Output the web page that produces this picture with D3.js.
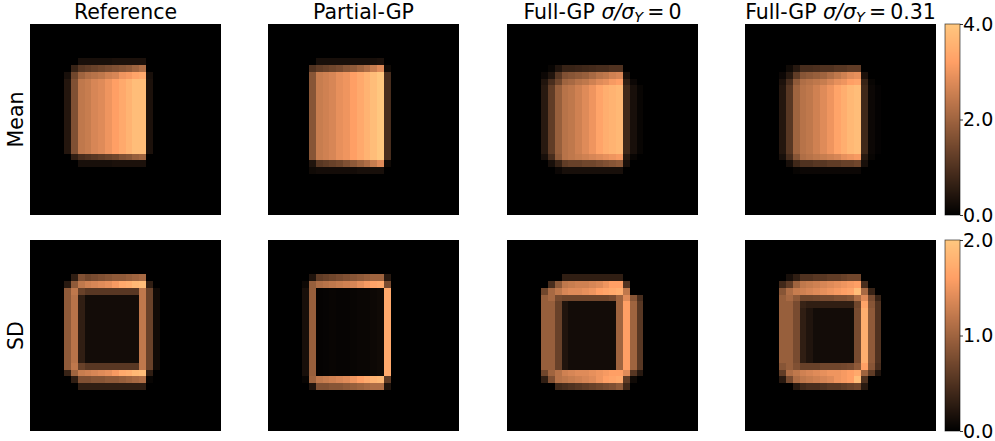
<!DOCTYPE html>
<html><head><meta charset="utf-8">
<script src="https://cdn.jsdelivr.net/npm/d3@7"></script>
<style>html,body{margin:0;padding:0;background:#fff}svg{display:block}text{font-family:"DejaVu Sans";fill:#000}</style>
</head><body><div id="c"></div>
<script>
// rows hold values by column; columns past the end of a row are 0
const e=[];
// Mean, Reference
const ma=[0,0,0,0,0,0,0,.3,.3,.3,.3,.3,.35,.35,.35,.35,.35];
const mb=[0,0,0,0,0,0,.7,1.1,1.2,1.3,1.4,1.5,1.6,1.7,1.8,2,2.2];
const mc=[0,0,0,0,0,.3,1.4,2,2.2,2.3,2.4,2.6,2.7,3,3.1,3.3,3.4,.3];
const md=[0,0,0,0,0,.45,1.6,2.4,2.5,2.7,2.8,3,3.2,3.4,3.6,3.8,3.8,.35];
const mf=[0,0,0,0,0,0,.6,.9,1,1.1,1.2,1.3,1.4,1.6,1.7,1.9,2];
const meanReference=[e,e,e,e,e,ma,mb,mc,md,md,md,md,md,md,md,md,md,md,md,mf,ma];
// Mean, Partial-GP
const pa=[0,0,0,0,0,0,0,.3,.3,.3,.3,.3,.3,.3,.3,.3,.35];
const pb=[0,0,0,0,0,0,1,1.2,1.3,1.4,1.5,1.7,1.8,2,2.2,2.5,2.8,.2];
const pc=[0,0,0,0,0,0,1.7,2.5,2.6,2.7,2.9,3,3.2,3.4,3.6,3.8,4,.9];
const pd=[0,0,0,0,0,0,.4,1.1,1.2,1.3,1.4,1.6,1.8,2,2.2,2.5,2.8,.2];
const pf=[0,0,0,0,0,0,.2,.25,.25,.25,.25,.25,.25,.3,.3,.3,.3];
const meanPartial=[e,e,e,e,e,pa,pb,pc,pc,pc,pc,pc,pc,pc,pc,pc,pc,pc,pc,pc,pd,pf];
// Mean, Full-GP sigma 0
const fa=[0,0,0,0,0,0,.1,.4,.7,.7,.75,.8,.85,.9,.9,1,1];
const fb=[0,0,0,0,0,.15,.4,1.1,1.6,1.7,1.8,1.9,2.1,2.3,2.4,2.6,2.7,.3];
const fc=[0,0,0,0,0,.4,.9,1.4,2,2.1,2.3,2.4,2.6,2.8,2.9,3.1,3.2,.6,.15];
const fd=[0,0,0,0,0,.5,1.2,1.9,2.3,2.4,2.6,2.8,3,3.3,3.5,3.6,3.7,.8,.3,.1];
const ff=[0,0,0,0,0,.3,.9,1.8,2.3,2.4,2.5,2.6,2.7,2.8,2.9,3,3.1,.5,.1];
const fg=[0,0,0,0,0,0,.3,.7,1.2,1.3,1.3,1.4,1.4,1.5,1.6,1.7,1.8,.3];
const fh=[0,0,0,0,0,0,0,.15,.3,.3,.3,.3,.3,.3,.3,.3,.3];
const meanFull0=[e,e,e,e,e,e,fa,fb,fc,fd,fd,fd,fd,fd,fd,fd,fd,fd,fd,ff,fg,fh];
// Mean, Full-GP sigma 0.31
const ga=[0,0,0,0,0,0,.2,.5,.9,.9,.95,1,1,1.1,1.1,1.2,1.2];
const gb=[0,0,0,0,0,.15,.5,1.2,1.7,1.8,1.9,2,2.2,2.4,2.6,2.8,2.9,.35];
const gc=[0,0,0,0,0,.35,.9,1.8,2.2,2.3,2.4,2.5,2.7,2.9,3,3.2,3.3,.7,.1];
const gd=[0,0,0,0,0,.45,1.1,2,2.3,2.4,2.6,2.8,3,3.3,3.5,3.7,3.8,.8,.15,.05];
const gf=[0,0,0,0,0,.3,.9,1.7,2.2,2.3,2.4,2.5,2.6,2.7,2.9,3,3.1,.5,.1];
const gg=[0,0,0,0,0,0,.3,.8,1,1,1.1,1.1,1.2,1.2,1.3,1.3,1.4,.3];
const gh=[0,0,0,0,0,0,0,.1,.15,.15,.15,.15,.15,.15,.15,.15,.15];
const meanFull31=[e,e,e,e,e,e,ga,gb,gc,gd,gd,gd,gd,gd,gd,gd,gd,gd,gd,gf,gg,gh];
// SD, Reference
const sa=[0,0,0,0,0,0,.3,.8,.7,.75,.8,.85,.9,.9,.95,1,1.05];
const sb=[0,0,0,0,0,.25,.9,1.2,1.3,1.35,1.4,1.45,1.55,1.7,1.75,1.85,1.9,.3];
const sc=[0,0,0,0,0,.9,1.2,.65,.55,.55,.55,.55,.55,.55,.55,.55,1.2,.65,.1];
const sd=[0,0,0,0,0,.9,1.15,.3,.12,.12,.12,.12,.12,.12,.12,.12,1.2,.65,.1];
const sf=[0,0,0,0,0,.35,1,1.25,1.3,1.35,1.4,1.45,1.55,1.7,1.75,1.85,1.9,.3];
const sg=[0,0,0,0,0,0,.3,.8,.8,.85,.85,.9,.9,.95,1,1.05,1.1,.05];
const sh=[0,0,0,0,0,0,0,.3,.3,.3,.3,.3,.3,.3,.3,.3,.3];
const sdReference=[e,e,e,e,e,sa,sb,sc,sd,sd,sd,sd,sd,sd,sd,sd,sd,sd,sc,sf,sg,sh];
// SD, Partial-GP
const qa=[0,0,0,0,0,0,.2,.6,.65,.7,.75,.8,.85,.9,.95,1,1,.25];
const qb=[0,0,0,0,0,.08,.95,1.1,1.15,1.2,1.25,1.3,1.35,1.45,1.55,1.65,1.7,.75];
const qc=[0,0,0,0,0,.15,.95,.03,.04,.05,.04,.04,.05,.06,.06,.08,.1,1.7];
const qd=[0,0,0,0,0,.05,1,1.2,1.25,1.3,1.35,1.4,1.5,1.6,1.7,1.8,1.85,.6];
const qf=[0,0,0,0,0,0,.2,.8,.8,.85,.85,.9,.95,1,1.05,1.1,1.1,.2];
const sdPartial=[e,e,e,e,e,qa,qb,qc,qc,qc,qc,qc,qc,qc,qc,qc,qc,qc,qc,qc,qd,qf];
// SD, Full-GP sigma 0
const ta=[0,0,0,0,0,0,0,0,.3,.3,.3,.3,.3,.3,.3,.3,.3];
const tb=[0,0,0,0,0,0,.45,.9,1.2,1.25,1.3,1.3,1.35,1.4,1.5,1.6,1.6,.5];
const tc=[0,0,0,0,0,.7,1.05,1.2,1.35,1.4,1.4,1.45,1.5,1.6,1.65,1.7,1.75,1.2];
const td=[0,0,0,0,0,.95,1.05,.75,.7,.7,.7,.7,.7,.7,.7,.75,1,1.4,.85,.45];
const tf=[0,0,0,0,0,.95,.95,.65,.2,.12,.12,.12,.12,.12,.12,.12,1,1.6,1,.55];
const tg=[0,0,0,0,0,.7,1,1.15,1.3,1.35,1.4,1.4,1.45,1.5,1.55,1.6,1.6,1.4,.55,.25];
const th=[0,0,0,0,0,.3,.8,1.15,1.2,1.25,1.3,1.35,1.4,1.5,1.6,1.65,1.7,.6,.1];
const ti=[0,0,0,0,0,0,0,.4,.45,.5,.55,.6,.65,.7,.75,.8,.9,.4];
const sdFull0=[e,e,e,e,e,ta,tb,tc,td,tf,tf,tf,tf,tf,tf,tf,tf,tf,tf,tg,th,ti];
// SD, Full-GP sigma 0.31
const ua=[0,0,0,0,0,0,.15,.3,.5,.5,.55,.55,.6,.6,.65,.7,.7];
const ub=[0,0,0,0,0,.4,.6,1,1.2,1.25,1.3,1.35,1.4,1.45,1.5,1.55,1.6,.45];
const uc=[0,0,0,0,0,.85,1.1,1.25,1.3,1.35,1.4,1.45,1.5,1.55,1.6,1.65,1.9,1.05,.35];
const ud=[0,0,0,0,0,.95,1.05,.9,.7,.7,.72,.75,.75,.8,.8,.85,1.1,1.4,.75,.35];
const uf=[0,0,0,0,0,.95,.95,.75,.35,.3,.3,.3,.3,.3,.3,.3,.7,1.65,.85,.5];
const ug=[0,0,0,0,0,.95,.95,.75,.3,.2,.12,.12,.12,.12,.12,.12,.75,1.75,.9,.5];
const uh=[0,0,0,0,0,.85,.95,.8,.65,.65,.65,.7,.7,.7,.72,.75,.9,1.6,.85,.45];
const ui=[0,0,0,0,0,.6,1.1,1.2,1.3,1.35,1.4,1.45,1.5,1.5,1.55,1.6,1.7,1,.6,.2];
const uj=[0,0,0,0,0,.25,.75,1.1,1.2,1.25,1.3,1.35,1.4,1.5,1.55,1.6,1.9,.5];
const uk=[0,0,0,0,0,0,0,.25,.4,.45,.45,.5,.55,.55,.6,.65,.7,.25];
const sdFull31=[e,e,e,e,e,ua,ub,uc,ud,uf,ug,ug,ug,ug,ug,ug,ug,ug,uh,ui,uj,uk];

const meanPanels=[meanReference,meanPartial,meanFull0,meanFull31];
const sdPanels=[sdReference,sdPartial,sdFull0,sdFull31];
const rowLabels=["Mean","SD"];
const meanMax=4, sdMax=2;
const meanTicks=[0,2,4], sdTicks=[0,1,2];
const gridSize=28;

const W=995,H=441;
const panelX=[30,268,507,745], panelY=[24,240], S=191;
const svg=d3.select("#c").append("svg").attr("width",W).attr("height",H);
const copper=t=>{t=Math.max(0,Math.min(1,t));return d3.rgb(Math.min(1,1.25*t)*255,.7812*t*255,.4975*t*255)+""};
const idx=d3.range(gridSize);
svg.append("defs").append("filter").attr("id","soft").attr("x","-5%").attr("y","-5%").attr("width","110%").attr("height","110%")
  .attr("color-interpolation-filters","sRGB")
  .append("feGaussianBlur").attr("stdDeviation",.45);

let pid=0;
function panel(m,x0,y0,max){
  const x=d3.scaleBand().domain(idx).range([x0,x0+S]);
  const y=d3.scaleBand().domain(idx).range([y0,y0+S]);
  const c=d3.scaleSequential(copper).domain([0,max]);
  const cells=idx.flatMap(r=>idx.map(k=>({r,k,v:(m[r]&&m[r][k])||0})));
  const id="clip"+(pid++);
  svg.select("defs").append("clipPath").attr("id",id).append("rect").attr("x",x0).attr("y",y0).attr("width",S).attr("height",S);
  const outer=svg.append("g").attr("clip-path",`url(#${id})`);
  const inner=outer.append("g").attr("filter","url(#soft)").attr("shape-rendering","crispEdges");
  inner.selectAll("rect").data(cells).join("rect")
    .attr("x",d=>Math.round(x(d.k))).attr("y",d=>Math.round(y(d.r)))
    .attr("width",d=>Math.round(x(d.k)+x.bandwidth())-Math.round(x(d.k)))
    .attr("height",d=>Math.round(y(d.r)+y.bandwidth())-Math.round(y(d.r)))
    .attr("fill",d=>c(d.v));
}
meanPanels.forEach((m,i)=>panel(m,panelX[i],panelY[0],meanMax));
sdPanels.forEach((m,i)=>panel(m,panelX[i],panelY[1],sdMax));

// titles
function title(i,parts){
  const t=svg.append("text").attr("x",panelX[i]+S/2).attr("y",18.5).attr("text-anchor","middle").attr("font-size",20.5);
  parts.forEach(p=>{const s=t.append("tspan").text(p.t);
    if(p.i)s.attr("font-style","italic");
    if(p.dy)s.attr("dy",p.dy);
    if(p.fs)s.attr("font-size",p.fs);});
}
title(0,[{t:"Reference"}]);
title(1,[{t:"Partial-GP"}]);
const sig=v=>[{t:"Full-GP "},{t:"σ/σ",i:1},{t:"Y",i:1,dy:3,fs:14.5},{t:"\u2009=\u2009"+v,dy:-3}];
title(2,sig("0"));
title(3,sig("0.31"));

// row labels
rowLabels.forEach((l,i)=>svg.append("text").attr("font-size",20.5)
  .attr("transform",`translate(23,${panelY[i]+S/2}) rotate(-90)`).attr("text-anchor","middle").text(l));

// colorbars
function colorbar(y0,max,ticks){
  const bx=945,bw=15;
  const y=d3.scaleLinear().domain([0,max]).range([y0+S,y0]);
  const c=d3.scaleSequential(copper).domain([0,max]);
  const levels=d3.range(S).map(i=>max*(i+.5)/S);
  svg.append("g").attr("shape-rendering","crispEdges").selectAll("rect").data(levels).join("rect")
    .attr("x",bx).attr("width",bw).attr("y",d=>y(d)-.5).attr("height",1.2).attr("fill",d=>c(d));
  svg.append("rect").attr("x",bx).attr("y",y0).attr("width",bw).attr("height",S)
    .attr("fill","none").attr("stroke","#000").attr("stroke-width",.8).attr("stroke-opacity",.7);
  const g=svg.append("g").attr("transform",`translate(${bx+bw},0)`)
    .call(d3.axisRight(y).tickValues(ticks).tickFormat(d3.format(".1f")).tickSize(3).tickPadding(0));
  g.select(".domain").remove();
  g.selectAll("line").attr("stroke","#000").attr("stroke-width",.8);
  g.selectAll("text").attr("font-size",19).attr("font-family","DejaVu Sans").attr("fill","#000");
}
colorbar(panelY[0],meanMax,meanTicks);
colorbar(panelY[1],sdMax,sdTicks);
</script></body></html>
